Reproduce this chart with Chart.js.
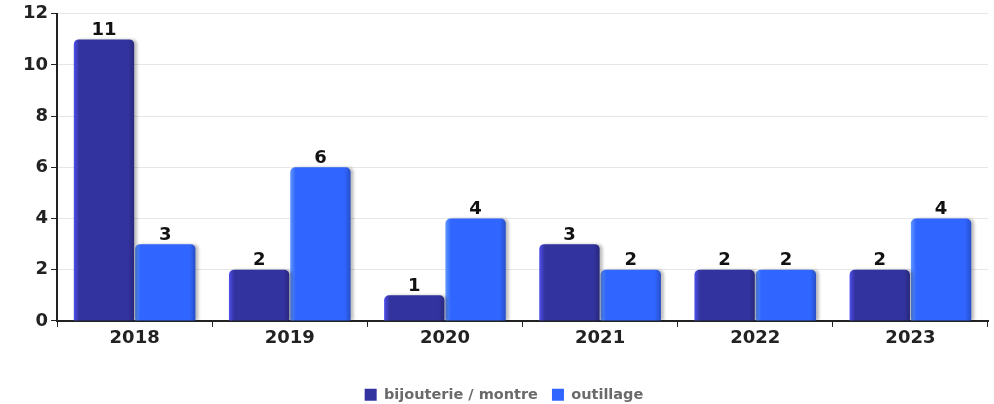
<!DOCTYPE html>
<html>
<head>
<meta charset="utf-8">
<script src="https://cdn.jsdelivr.net/npm/chart.js@4/dist/chart.umd.min.js"></script>
<style>
  html, body { margin: 0; padding: 0; background: #fff; }
  #wrap { width: 994px; height: 404px; }
</style>
</head>
<body>
<div id="wrap"><canvas id="bar-plot"></canvas></div>
<script>
let years = ['2018', '2019', '2020', '2021', '2022', '2023']
let bijouterie_values = [11, 2, 1, 3, 2, 2]
let outillage_values = [3, 6, 4, 2, 2, 4]
let y_ticks = [0, 2, 4, 6, 8, 10, 12]

let dark_blue = ['rgb(78,78,235)', 'rgb(51,51,160)', 'rgb(40,40,125)']
let light_blue = ['rgb(95,150,255)', 'rgb(48,102,255)', 'rgb(38,78,200)']

// shade every bar across its width, with a soft shadow on the right
let bar_shading = {
    id: 'bar_shading',
    beforeDatasetDraw(chart, args) {
        let ctx = chart.ctx
        let meta = args.meta
        let cols = meta.index === 0 ? dark_blue : light_blue
        meta.data.forEach(bar => {
            let left = bar.x - bar.width / 2
            let g = ctx.createLinearGradient(left, 0, left + bar.width, 0)
            g.addColorStop(0, cols[0])
            g.addColorStop(0.09, cols[1])
            g.addColorStop(0.9, cols[1])
            g.addColorStop(1, cols[2])
            bar.options.backgroundColor = g
        })
        ctx.save()
        ctx.shadowColor = 'rgba(0,0,0,0.25)'
        ctx.shadowOffsetX = 3
        ctx.shadowOffsetY = 0
        ctx.shadowBlur = 3
    },
    afterDatasetDraw(chart) {
        chart.ctx.restore()
    }
}

let value_labels = {
    id: 'value_labels',
    afterDatasetsDraw(chart) {
        let ctx = chart.ctx
        ctx.save()
        ctx.font = 'bold 18px "DejaVu Sans"'
        ctx.fillStyle = '#111'
        ctx.textAlign = 'center'
        ctx.textBaseline = 'bottom'
        chart.data.datasets.forEach((ds, i) => {
            chart.getDatasetMeta(i).data.forEach((bar, j) => {
                ctx.fillText(ds.data[j], bar.x, bar.y)
            })
        })
        ctx.restore()
    }
}

function make_chart() {
    Chart.defaults.font.family = '"DejaVu Sans"'
    Chart.defaults.animation = false
    Chart.defaults.maintainAspectRatio = false

    let ctx = document.getElementById('bar-plot')
    new Chart(ctx, {
        type: 'bar',
        data: {
            labels: years,
            datasets: [
                // scriptable colours keep each bar's options separate
                { label: 'bijouterie / montre', data: bijouterie_values, backgroundColor: () => 'rgb(51,51,160)' },
                { label: 'outillage', data: outillage_values, backgroundColor: () => 'rgb(48,102,255)' }
            ]
        },
        options: {
            layout: { padding: { top: 13, right: 6, left: 20, bottom: -8 } },
            datasets: {
                bar: {
                    categoryPercentage: 0.79,
                    barPercentage: 0.985,
                    borderRadius: { topLeft: 5, topRight: 5, bottomLeft: 0, bottomRight: 0 },
                    borderSkipped: 'bottom'
                }
            },
            scales: {
                x: {
                    grid: { display: true, drawOnChartArea: false, color: '#222', tickLength: 6, offset: true },
                    border: { color: '#222', width: 2 },
                    ticks: { color: '#222', font: { size: 18, weight: 'bold' }, padding: 1 },
                    afterFit: axis => { axis.height += 23 }
                },
                y: {
                    min: 0,
                    max: 12,
                    afterBuildTicks: axis => { axis.ticks = y_ticks.map(v => ({ value: v })) },
                    grid: { color: '#e6e6e6', tickColor: '#222', tickLength: 6 },
                    border: { color: '#222', width: 2 },
                    ticks: { color: '#222', font: { size: 18, weight: 'bold' }, padding: 3 }
                }
            },
            plugins: {
                legend: {
                    position: 'bottom',
                    labels: {
                        boxWidth: 12,
                        boxHeight: 12,
                        color: '#6a6a6a',
                        font: { size: 14.5, weight: 'bold' },
                        padding: 14
                    }
                },
                tooltip: { enabled: false }
            }
        },
        plugins: [bar_shading, value_labels]
    })
}

document.addEventListener('DOMContentLoaded', make_chart)
</script>
</body>
</html>
